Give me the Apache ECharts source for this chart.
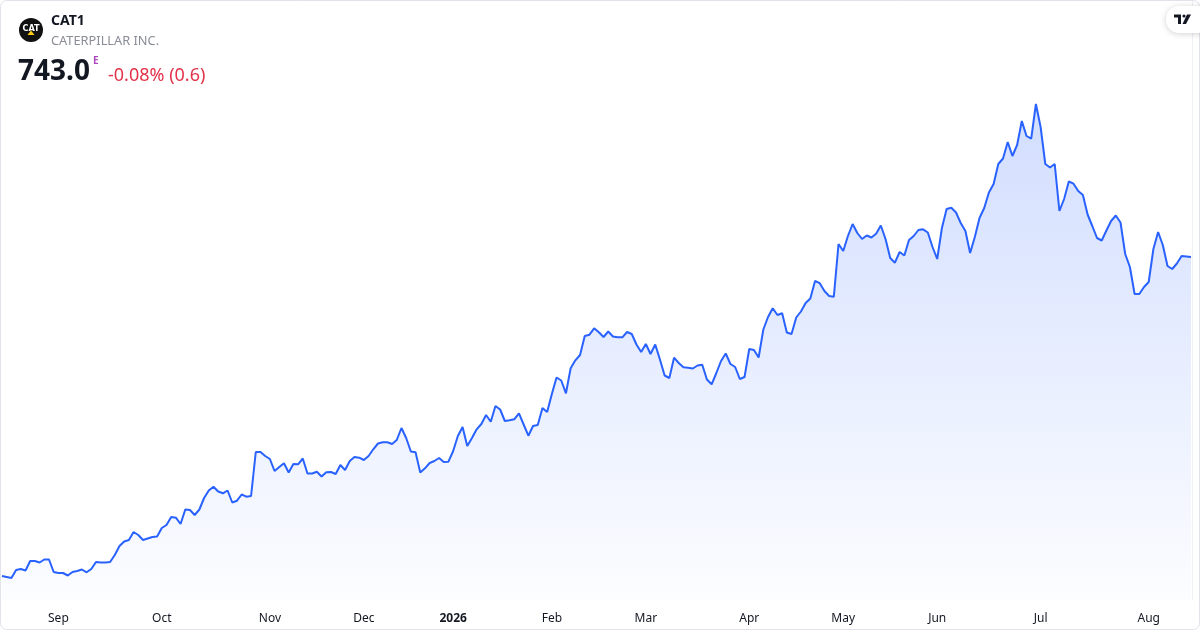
<!DOCTYPE html>
<html>
<head>
<meta charset="utf-8">
<script src="https://cdn.jsdelivr.net/npm/echarts@6/dist/echarts.min.js"></script>
<style>
  html, body { margin: 0; padding: 0; background: #ffffff; }
  #chart { width: 1200px; height: 630px; }
</style>
</head>
<body>
<div id="chart"></div>
<script>
// ---- Data ----
const symbol = 'CAT1';
const companyName = 'CATERPILLAR INC.';
const lastPrice = '743.0';
const changeText = '-0.08% (0.6)';

// Trading calendar: weekdays from the start date, minus exchange holidays
const startDate = '2025-08-14';
const holidays = ['2025-12-24', '2025-12-25', '2025-12-26', '2025-12-31',
                  '2026-01-01', '2026-04-03', '2026-04-06', '2026-05-01'];

// Month tick labels (January shows the year)
const monthLabels = ['2026', 'Feb', 'Mar', 'Apr', 'May', 'Jun',
                     'Jul', 'Aug', 'Sep', 'Oct', 'Nov', 'Dec'];

// Daily closing prices (Aug 2025 – Aug 2026)
const prices = [
  424, 423, 422, 430, 431, 429.5, 439, 439, 437.5, 440.5,
  440.5, 428, 427, 427, 424.5, 428, 429, 430.5, 427.7, 431,
  438, 437.5, 437.5, 438, 445, 454, 458.5, 460, 468, 465,
  460, 461.5, 463, 463.5, 472, 475, 483, 482.3, 476, 490.5,
  490, 485, 490.5, 502, 509.5, 513.3, 508.5, 506.7, 509.5, 497.5,
  499.3, 505.5, 503.3, 504, 548, 548, 544, 541, 529, 533,
  536.7, 527.5, 536, 535.7, 541.5, 526.5, 526.5, 528.3, 523.5, 527.7,
  528, 526, 535, 530, 539, 543, 542.3, 540, 544, 550.7,
  556.5, 557.7, 557.7, 556, 560, 572, 562, 548.5, 547.7, 527.5,
  531.7, 537, 539, 542, 538, 538.3, 549, 564, 573, 554,
  562, 570.7, 576, 585, 578.3, 594, 590.5, 579, 579.7, 580.7,
  586.7, 575.5, 564.3, 574, 575, 592, 588, 606, 622.5, 619.5,
  606.7, 631.7, 639.7, 645, 664, 665.3, 671.7, 667.7, 663, 668.5,
  663.5, 662.7, 662.7, 668, 666, 655.5, 648, 656, 646, 655.5,
  640.5, 624.5, 622, 642.3, 637, 632.7, 632.3, 631.5, 634.5, 635.3,
  620.5, 615.7, 627, 639, 646.5, 636, 633, 621, 623, 651,
  650, 642.5, 670.5, 683, 691.7, 685, 686.7, 667.5, 666, 682.5,
  688.5, 697, 701.5, 719, 716.8, 709, 704, 703.3, 756, 749,
  764, 776, 767, 761, 764.5, 762.5, 766.3, 774.5, 761, 742,
  737.3, 748, 744.5, 760, 764, 770, 770.7, 767.5, 753, 741,
  772, 791, 792.3, 787.5, 777, 769, 747, 763, 782, 792,
  807.5, 816, 836, 841.5, 858, 844, 855, 879, 864, 861.3,
  896, 873, 836, 832.5, 836, 789, 801, 818.5, 816.3, 809,
  805, 785.5, 774, 762, 759.5, 769.5, 779, 784.5, 777.5, 746,
  733, 706, 706, 713, 718, 751, 768, 755, 734, 731,
  736.5, 744, 743.6, 743.0
];

// ---- Build trading dates ----
function buildDates(start, count, skip) {
  const out = [];
  const d = new Date(start + 'T00:00:00Z');
  while (out.length < count) {
    const day = d.getUTCDay();
    const iso = d.toISOString().slice(0, 10);
    if (day !== 0 && day !== 6 && skip.indexOf(iso) < 0) out.push(iso);
    d.setUTCDate(d.getUTCDate() + 1);
  }
  return out;
}
const dates = buildDates(startDate, prices.length, holidays);

function isMonthStart(i) {
  return i > 0 && dates[i].slice(5, 7) !== dates[i - 1].slice(5, 7);
}

const chart = echarts.init(document.getElementById('chart'), null, { renderer: 'canvas' });
const FONT = '"Noto Sans", "Open Sans", sans-serif';

const option = {
  backgroundColor: '#ffffff',
  animation: false,
  grid: { left: 2, right: 9, top: 40, bottom: 30 },
  xAxis: {
    type: 'category',
    data: dates,
    boundaryGap: false,
    axisLine: { show: false },
    axisTick: { show: false },
    splitLine: { show: false },
    axisLabel: {
      interval: function (index) { return isMonthStart(index); },
      margin: 13,
      color: '#131722',
      fontFamily: FONT,
      fontSize: 12,
      formatter: function (value) {
        const m = parseInt(value.slice(5, 7), 10);
        const label = monthLabels[(m - 1)];
        return m === 1 ? '{b|' + label + '}' : label;
      },
      rich: {
        b: { fontWeight: 'bold', fontSize: 12, color: '#131722', fontFamily: FONT }
      }
    }
  },
  yAxis: {
    type: 'value',
    min: 400,
    max: 960,
    show: false,
    splitLine: { show: false }
  },
  series: [{
    type: 'line',
    data: prices,
    showSymbol: false,
    symbol: 'none',
    lineStyle: { color: '#2962ff', width: 2 },
    itemStyle: { color: '#2962ff' },
    areaStyle: {
      color: new echarts.graphic.LinearGradient(0, 0, 0, 1, [
        { offset: 0, color: 'rgba(41, 98, 255, 0.30)' },
        { offset: 1, color: 'rgba(41, 98, 255, 0.02)' }
      ])
    }
  }],
  graphic: [
    // outer border
    { type: 'rect', shape: { x: 0.5, y: 0.5, width: 1199, height: 629, r: 6 },
      style: { fill: 'none', stroke: '#e0e3eb', lineWidth: 1 }, silent: true, z: 100 },
    // right edge line of plot
    { type: 'line', shape: { x1: 1192.5, y1: 0, x2: 1192.5, y2: 600 },
      style: { stroke: '#eef0f4', lineWidth: 1 }, silent: true, z: 50 },
    // logo
    { type: 'circle', shape: { cx: 31, cy: 30, r: 12 }, style: { fill: '#111111' }, z: 100 },
    { type: 'text', x: 31, y: 29, z: 101,
      style: { text: 'CAT', fill: '#ffffff', font: 'bold 9px "DejaVu Sans Condensed", "Liberation Sans Narrow", sans-serif',
               align: 'center', verticalAlign: 'middle' } },
    { type: 'polygon', z: 102, shape: { points: [[27.5, 35], [34.5, 35], [31, 30.5]] },
      style: { fill: '#ffcd11' } },
    // symbol + name
    { type: 'text', x: 51, y: 21, z: 100,
      style: { text: symbol, fill: '#131722', font: 'bold 14px ' + FONT, verticalAlign: 'middle' } },
    { type: 'text', x: 51, y: 41, z: 100,
      style: { text: companyName, fill: '#8a8d96', font: '12.8px ' + FONT, verticalAlign: 'middle' } },
    // price
    { type: 'text', x: 18, y: 72, z: 100,
      style: { text: lastPrice, fill: '#131722', font: 'bold 28px ' + FONT, verticalAlign: 'middle' } },
    { type: 'text', x: 93, y: 61, z: 100,
      style: { text: 'E', fill: '#ab47bc', font: 'bold 10px ' + FONT, verticalAlign: 'middle' } },
    { type: 'text', x: 108, y: 76, z: 100,
      style: { text: changeText, fill: '#e3334a', font: '18px ' + FONT, verticalAlign: 'middle' } },
    // TradingView badge
    { type: 'rect', z: 100, shape: { x: 1166, y: 6, width: 46, height: 27, r: 13 },
      style: { fill: '#ffffff', shadowBlur: 6, shadowColor: 'rgba(0,0,0,0.18)', shadowOffsetY: 1 } },
    { type: 'polygon', z: 101, shape: { points: [[1174, 14.5], [1181, 14.5], [1181, 24], [1178, 24], [1178, 17.5], [1174, 17.5]] },
      style: { fill: '#131722' } },
    { type: 'circle', z: 101, shape: { cx: 1184, cy: 16, r: 1.6 }, style: { fill: '#131722' } },
    { type: 'polygon', z: 101, shape: { points: [[1187, 14.5], [1191, 14.5], [1186, 24], [1182.5, 24]] },
      style: { fill: '#131722' } }
  ]
};

chart.setOption(option);
</script>
</body>
</html>
